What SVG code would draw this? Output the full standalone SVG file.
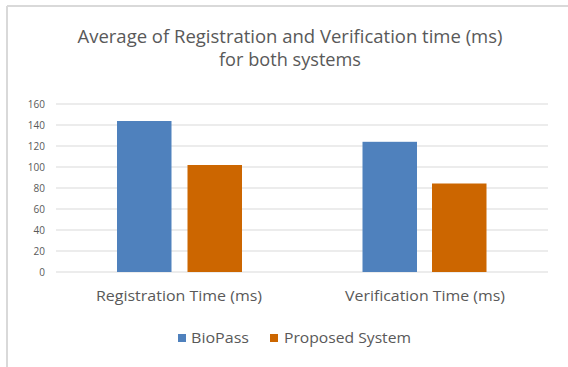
<svg xmlns="http://www.w3.org/2000/svg" width="568" height="367" viewBox="0 0 568 367">
<style>
.t{font-family:"Open Sans","Liberation Sans",sans-serif;fill:#595959}
.ax{font-size:10px;text-anchor:end}
.grid{stroke:#d9d9d9;stroke-width:1}
.blue{fill:#4f81bd}
.orange{fill:#cc6600}
</style>
<rect width="568" height="367" fill="#ffffff"/>
<g id="frame" stroke="#d9d9d9" stroke-width="2" fill="none">
<line x1="7" y1="6" x2="568" y2="6"/>
<line x1="7" y1="6" x2="7" y2="367"/>
</g>
<g id="title" class="t" font-size="18" text-anchor="middle">
<text x="290" y="43" textLength="425" lengthAdjust="spacingAndGlyphs">Average of Registration and Verification time (ms)</text>
<text x="290" y="66" textLength="142" lengthAdjust="spacingAndGlyphs">for both systems</text>
</g>
<g id="gridlines" class="grid">
<line x1="56" y1="104" x2="548" y2="104"/>
<line x1="56" y1="125" x2="548" y2="125"/>
<line x1="56" y1="146" x2="548" y2="146"/>
<line x1="56" y1="167" x2="548" y2="167"/>
<line x1="56" y1="188" x2="548" y2="188"/>
<line x1="56" y1="209" x2="548" y2="209"/>
<line x1="56" y1="230" x2="548" y2="230"/>
<line x1="56" y1="251" x2="548" y2="251"/>
<line x1="56" y1="272" x2="548" y2="272"/>
</g>
<g id="yaxis" class="t ax">
<text x="45" y="107.5">160</text>
<text x="45" y="128.5">140</text>
<text x="45" y="149.5">120</text>
<text x="45" y="170.5">100</text>
<text x="45" y="191.5">80</text>
<text x="45" y="212.5">60</text>
<text x="45" y="233.5">40</text>
<text x="45" y="254.5">20</text>
<text x="45" y="275.5">0</text>
</g>
<g id="bars">
<rect id="reg-biopass" class="blue" x="117" y="121" width="54.5" height="151"/>
<rect id="reg-proposed" class="orange" x="187.5" y="165" width="54.5" height="107"/>
<rect id="ver-biopass" class="blue" x="362.5" y="141.8" width="54.5" height="130.2"/>
<rect id="ver-proposed" class="orange" x="432" y="183.5" width="54.5" height="88.5"/>
</g>
<g id="categories" class="t" font-size="14" text-anchor="middle">
<text x="179" y="301" textLength="166" lengthAdjust="spacingAndGlyphs">Registration Time (ms)</text>
<text x="425" y="301" textLength="160" lengthAdjust="spacingAndGlyphs">Verification Time (ms)</text>
</g>
<g id="legend" class="t" font-size="14">
<rect class="blue" x="178" y="334" width="8" height="8"/>
<text x="191" y="343" textLength="58" lengthAdjust="spacingAndGlyphs">BioPass</text>
<rect class="orange" x="270" y="334" width="8" height="8"/>
<text x="284" y="343" textLength="127" lengthAdjust="spacingAndGlyphs">Proposed System</text>
</g>
</svg>
